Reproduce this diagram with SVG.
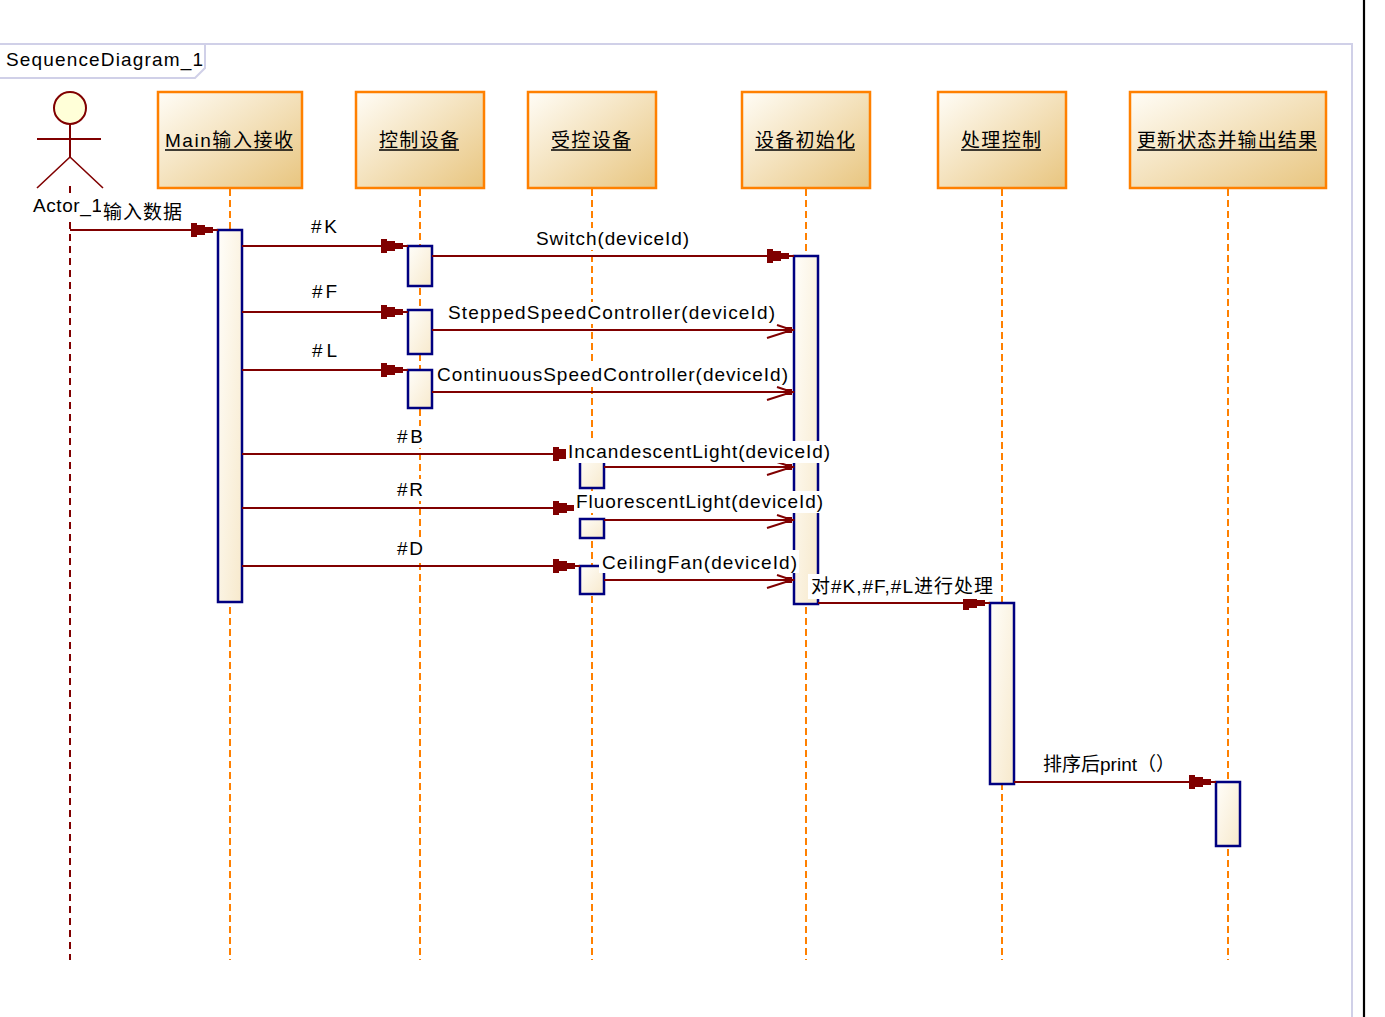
<svg xmlns="http://www.w3.org/2000/svg" xmlns:xlink="http://www.w3.org/1999/xlink" width="1385" height="1017" viewBox="0 0 1385 1017">
<style>
.lbl{font-family:"Liberation Sans","Noto Sans CJK SC",sans-serif;font-size:19px;fill:#000}
.bg{fill:#fff}
.msg{stroke:#800000;stroke-width:2.2;fill:none}
.life{stroke:#ff8000;stroke-width:2;stroke-dasharray:7 4;fill:none}
.alife{stroke:#800000;stroke-width:2;stroke-dasharray:7 5;fill:none}
.obj{fill:url(#objGrad);stroke:#ff8000;stroke-width:2.5}
.act{fill:url(#actGrad);stroke:#000080;stroke-width:2.5}
.ul{stroke:#000;stroke-width:1.6}
.frm{stroke:#d0d0e8;stroke-width:2;fill:none}
</style>
<defs>
<linearGradient id="objGrad" x1="0" y1="0" x2="1" y2="1">
<stop offset="0" stop-color="#fffdf7"/>
<stop offset="1" stop-color="#e8c57f"/>
</linearGradient>
<linearGradient id="actGrad" x1="0" y1="0" x2="1" y2="1">
<stop offset="0" stop-color="#fffefa"/>
<stop offset="1" stop-color="#f7e9cc"/>
</linearGradient>
<path id="sync" d="M-22,-7 H-16 V-5 H-8 V-3 H0 V3 H-8 V5 H-16 V7 H-22 Z" fill="#800000"/>
<g id="async">
<path d="M-15,-5 L0,0 L-25,8" stroke="#800000" stroke-width="2" fill="none"/>
<rect x="-7" y="-3" width="7" height="6" fill="#800000"/>
</g>
</defs>
<rect x="0" y="0" width="1385" height="1017" fill="#fff"/>

<g id="frame">
<path class="frm" d="M0,44 H1352 V1017"/>
<path class="frm" d="M0,78 H195 L205,68 V44"/>
<text class="lbl" x="6" y="66" textLength="197" lengthAdjust="spacing">SequenceDiagram_1</text>
<line x1="1364" y1="0" x2="1364" y2="1017" stroke="#000" stroke-width="2.2"/>
</g>

<g id="lifelines">
<line class="alife" x1="70" y1="186" x2="70" y2="960"/>
<line class="life" x1="230" y1="189" x2="230" y2="960"/>
<line class="life" x1="420" y1="189" x2="420" y2="960"/>
<line class="life" x1="592" y1="189" x2="592" y2="960"/>
<line class="life" x1="806" y1="189" x2="806" y2="960"/>
<line class="life" x1="1002" y1="189" x2="1002" y2="960"/>
<line class="life" x1="1228" y1="189" x2="1228" y2="960"/>
</g>

<g id="actor_1">
<circle cx="70" cy="108" r="16" fill="#ffffd8" stroke="#800000" stroke-width="2"/>
<line x1="70" y1="124" x2="70" y2="157" stroke="#800000" stroke-width="2"/>
<line x1="37" y1="139" x2="101" y2="139" stroke="#800000" stroke-width="2"/>
<path d="M37,188 L70,157 L103,188" stroke="#800000" stroke-width="1.6" fill="none"/>
<rect class="bg" x="31" y="195" width="73" height="22"/>
<text class="lbl" x="33" y="212" textLength="69" lengthAdjust="spacing">Actor_1</text>
</g>

<g id="obj_main">
<rect class="obj" x="158" y="92" width="144" height="96"/>
<text class="lbl" x="165" y="147" textLength="128" lengthAdjust="spacing">Main输入接收</text>
<line class="ul" x1="165" y1="150" x2="293" y2="150"/>
</g>
<g id="obj_control">
<rect class="obj" x="356" y="92" width="128" height="96"/>
<text class="lbl" x="379" y="147" textLength="80" lengthAdjust="spacing">控制设备</text>
<line class="ul" x1="379" y1="150" x2="459" y2="150"/>
</g>
<g id="obj_controlled">
<rect class="obj" x="528" y="92" width="128" height="96"/>
<text class="lbl" x="551" y="147" textLength="80" lengthAdjust="spacing">受控设备</text>
<line class="ul" x1="551" y1="150" x2="631" y2="150"/>
</g>
<g id="obj_init">
<rect class="obj" x="742" y="92" width="128" height="96"/>
<text class="lbl" x="755" y="147" textLength="100" lengthAdjust="spacing">设备初始化</text>
<line class="ul" x1="755" y1="150" x2="855" y2="150"/>
</g>
<g id="obj_process">
<rect class="obj" x="938" y="92" width="128" height="96"/>
<text class="lbl" x="961" y="147" textLength="80" lengthAdjust="spacing">处理控制</text>
<line class="ul" x1="961" y1="150" x2="1041" y2="150"/>
</g>
<g id="obj_update">
<rect class="obj" x="1130" y="92" width="196" height="96"/>
<text class="lbl" x="1137" y="147" textLength="180" lengthAdjust="spacing">更新状态并输出结果</text>
<line class="ul" x1="1137" y1="150" x2="1317" y2="150"/>
</g>

<g id="activations">
<rect class="act" x="218" y="230" width="24" height="372"/>
<rect class="act" x="408" y="246" width="24" height="40"/>
<rect class="act" x="408" y="310" width="24" height="44"/>
<rect class="act" x="408" y="370" width="24" height="38"/>
<rect class="act" x="580" y="454" width="24" height="34"/>
<rect class="act" x="580" y="519" width="24" height="19"/>
<rect class="act" x="580" y="566" width="24" height="28"/>
<rect class="act" x="794" y="256" width="24" height="348"/>
<rect class="act" x="990" y="603" width="24" height="181"/>
<rect class="act" x="1216" y="782" width="24" height="64"/>
</g>

<g id="connectors">
<g id="m_input">
<line class="msg" x1="70" y1="230" x2="218" y2="230"/>
<use href="#sync" transform="translate(213,230)"/>
<rect class="bg" x="101" y="202" width="83" height="22"/>
<text class="lbl" x="103" y="219" textLength="79" lengthAdjust="spacing">输入数据</text>
</g>
<g id="m_K">
<line class="msg" x1="242" y1="246" x2="408" y2="246"/>
<use href="#sync" transform="translate(403,246)"/>
<rect class="bg" x="309" y="216" width="30" height="22"/>
<text class="lbl" x="311" y="233" textLength="26" lengthAdjust="spacing">#K</text>
</g>
<g id="m_switch">
<line class="msg" x1="432" y1="256" x2="794" y2="256"/>
<use href="#sync" transform="translate(789,256)"/>
<rect class="bg" x="534" y="228" width="157" height="22"/>
<text class="lbl" x="536" y="245" textLength="153" lengthAdjust="spacing">Switch(deviceId)</text>
</g>
<g id="m_F">
<line class="msg" x1="242" y1="312" x2="408" y2="312"/>
<use href="#sync" transform="translate(403,312)"/>
<rect class="bg" x="310" y="281" width="30" height="22"/>
<text class="lbl" x="312" y="298" textLength="25" lengthAdjust="spacing">#F</text>
</g>
<g id="m_stepped">
<line class="msg" x1="432" y1="330" x2="794" y2="330"/>
<use href="#async" transform="translate(792,330)"/>
<rect class="bg" x="446" y="302" width="331" height="22"/>
<text class="lbl" x="448" y="319" textLength="327" lengthAdjust="spacing">SteppedSpeedController(deviceId)</text>
</g>
<g id="m_L">
<line class="msg" x1="242" y1="370" x2="408" y2="370"/>
<use href="#sync" transform="translate(403,370)"/>
<rect class="bg" x="310" y="340" width="30" height="22"/>
<text class="lbl" x="312" y="357" textLength="25" lengthAdjust="spacing">#L</text>
</g>
<g id="m_continuous">
<line class="msg" x1="432" y1="392" x2="794" y2="392"/>
<use href="#async" transform="translate(792,392)"/>
<rect class="bg" x="435" y="364" width="355" height="22"/>
<text class="lbl" x="437" y="381" textLength="351" lengthAdjust="spacing">ContinuousSpeedController(deviceId)</text>
</g>
<g id="m_B">
<line class="msg" x1="242" y1="454" x2="580" y2="454"/>
<use href="#sync" transform="translate(575,454)"/>
<rect class="bg" x="395" y="426" width="30" height="22"/>
<text class="lbl" x="397" y="443" textLength="26" lengthAdjust="spacing">#B</text>
</g>
<g id="m_incandescent">
<line class="msg" x1="604" y1="467" x2="794" y2="467"/>
<use href="#async" transform="translate(792,467)"/>
<rect class="bg" x="566" y="441" width="266" height="22"/>
<text class="lbl" x="568" y="458" textLength="262" lengthAdjust="spacing">IncandescentLight(deviceId)</text>
</g>
<g id="m_R">
<line class="msg" x1="242" y1="508" x2="580" y2="508"/>
<use href="#sync" transform="translate(575,508)"/>
<rect class="bg" x="395" y="479" width="30" height="22"/>
<text class="lbl" x="397" y="496" textLength="26" lengthAdjust="spacing">#R</text>
</g>
<g id="m_fluorescent">
<line class="msg" x1="604" y1="520" x2="794" y2="520"/>
<use href="#async" transform="translate(792,520)"/>
<rect class="bg" x="574" y="491" width="251" height="22"/>
<text class="lbl" x="576" y="508" textLength="247" lengthAdjust="spacing">FluorescentLight(deviceId)</text>
</g>
<g id="m_D">
<line class="msg" x1="242" y1="566" x2="580" y2="566"/>
<use href="#sync" transform="translate(575,566)"/>
<rect class="bg" x="395" y="538" width="30" height="22"/>
<text class="lbl" x="397" y="555" textLength="26" lengthAdjust="spacing">#D</text>
</g>
<g id="m_ceiling">
<line class="msg" x1="604" y1="580" x2="794" y2="580"/>
<use href="#async" transform="translate(792,580)"/>
<rect class="bg" x="599" y="550" width="200" height="23"/>
<text class="lbl" x="602" y="569" textLength="195" lengthAdjust="spacing">CeilingFan(deviceId)</text>
</g>
<g id="m_process">
<line class="msg" x1="818" y1="603" x2="990" y2="603"/>
<use href="#sync" transform="translate(985,603)"/>
<rect class="bg" x="808" y="574" width="189" height="25"/>
<text class="lbl" x="811" y="593" textLength="182" lengthAdjust="spacing">对#K,#F,#L进行处理</text>
</g>
<g id="m_print">
<line class="msg" x1="1014" y1="782" x2="1216" y2="782"/>
<use href="#sync" transform="translate(1211,782)"/>
<rect class="bg" x="1041" y="753" width="136" height="23"/>
<text class="lbl" x="1043" y="771" textLength="132" lengthAdjust="spacing">排序后print（）</text>
</g>
</g>
</svg>
